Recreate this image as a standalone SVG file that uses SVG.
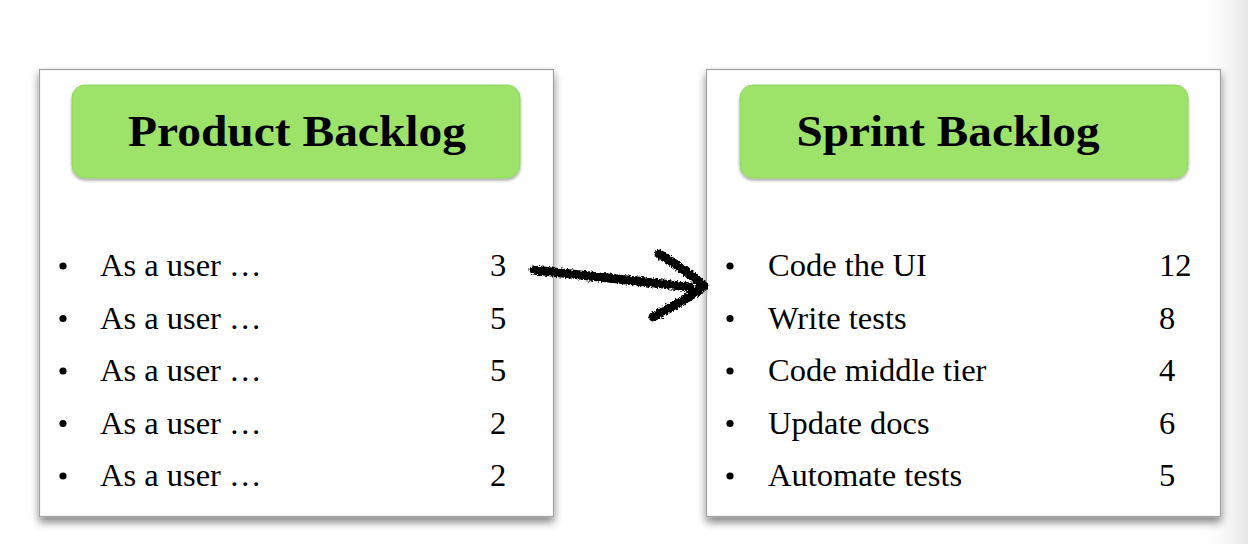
<svg xmlns="http://www.w3.org/2000/svg" width="1248" height="544" viewBox="0 0 1248 544">
  <defs>
    <style>
      .card { fill: #ffffff; stroke: #a0a0a0; stroke-width: 1.2; }
      .hdr { fill: #9de36b; stroke: #93d562; stroke-width: 1; }
      .title { font-family: "Liberation Serif", serif; font-weight: bold; font-size: 45px; fill: #000; text-anchor: middle; }
      .item { font-family: "Liberation Serif", serif; font-size: 32.5px; fill: #000; }
      .bullet { fill: #000; }
      .arrow { fill: none; stroke: #000; stroke-width: 9; stroke-linecap: round; stroke-linejoin: round; }
    </style>
    <linearGradient id="edge" x1="0" y1="0" x2="1" y2="0">
      <stop offset="0" stop-color="#ffffff" stop-opacity="0"/>
      <stop offset="1" stop-color="#e6e6e6"/>
    </linearGradient>
    <filter id="cardShadow" x="-10%" y="-10%" width="120%" height="125%">
      <feGaussianBlur in="SourceAlpha" stdDeviation="4"/>
      <feOffset dx="0" dy="5" result="b"/>
      <feComponentTransfer><feFuncA type="linear" slope="0.5"/></feComponentTransfer>
      <feMerge><feMergeNode/><feMergeNode in="SourceGraphic"/></feMerge>
    </filter>
    <filter id="hdrShadow" x="-5%" y="-10%" width="110%" height="130%">
      <feGaussianBlur in="SourceAlpha" stdDeviation="1.5"/>
      <feOffset dx="0" dy="2"/>
      <feComponentTransfer><feFuncA type="linear" slope="0.35"/></feComponentTransfer>
      <feMerge><feMergeNode/><feMergeNode in="SourceGraphic"/></feMerge>
    </filter>
    <filter id="rough" x="-10%" y="-30%" width="120%" height="160%">
      <feTurbulence type="fractalNoise" baseFrequency="0.6" numOctaves="2" seed="3" result="n"/>
      <feDisplacementMap in="SourceGraphic" in2="n" scale="5" xChannelSelector="R" yChannelSelector="G"/>
    </filter>
  </defs>

  <rect x="0" y="0" width="1248" height="544" fill="#ffffff"/>
  <rect x="1196" y="0" width="52" height="544" fill="url(#edge)"/>

  <g id="product-backlog">
    <rect class="card" x="39.5" y="69.5" width="514" height="447" filter="url(#cardShadow)"/>
    <rect class="hdr" x="72" y="85" width="448" height="93" rx="13" filter="url(#hdrShadow)"/>
    <text class="title" x="297" y="146" textLength="338" lengthAdjust="spacingAndGlyphs">Product Backlog</text>
    <g class="item">
      <circle class="bullet" cx="63" cy="266" r="3.6"/>
      <text x="100" y="276">As a user …</text><text x="490" y="276">3</text>
      <circle class="bullet" cx="63" cy="318.5" r="3.6"/>
      <text x="100" y="328.5">As a user …</text><text x="490" y="328.5">5</text>
      <circle class="bullet" cx="63" cy="371" r="3.6"/>
      <text x="100" y="381">As a user …</text><text x="490" y="381">5</text>
      <circle class="bullet" cx="63" cy="423.5" r="3.6"/>
      <text x="100" y="433.5">As a user …</text><text x="490" y="433.5">2</text>
      <circle class="bullet" cx="63" cy="476" r="3.6"/>
      <text x="100" y="486">As a user …</text><text x="490" y="486">2</text>
    </g>
  </g>

  <g id="sprint-backlog">
    <rect class="card" x="706.5" y="69.5" width="514" height="447" filter="url(#cardShadow)"/>
    <rect class="hdr" x="740" y="85" width="448" height="93" rx="13" filter="url(#hdrShadow)"/>
    <text class="title" x="948" y="146" textLength="303" lengthAdjust="spacingAndGlyphs">Sprint Backlog</text>
    <g class="item">
      <circle class="bullet" cx="730" cy="266" r="3.6"/>
      <text x="768" y="276">Code the UI</text><text x="1159" y="276">12</text>
      <circle class="bullet" cx="730" cy="318.5" r="3.6"/>
      <text x="768" y="328.5">Write tests</text><text x="1159" y="328.5">8</text>
      <circle class="bullet" cx="730" cy="371" r="3.6"/>
      <text x="768" y="381">Code middle tier</text><text x="1159" y="381">4</text>
      <circle class="bullet" cx="730" cy="423.5" r="3.6"/>
      <text x="768" y="433.5">Update docs</text><text x="1159" y="433.5">6</text>
      <circle class="bullet" cx="730" cy="476" r="3.6"/>
      <text x="768" y="486">Automate tests</text><text x="1159" y="486">5</text>
    </g>
  </g>

  <g id="connectors" filter="url(#rough)">
    <path class="arrow" d="M534,270 C590,276 640,281 690,287"/>
    <path class="arrow" d="M659,254 C680,266 694,277 704,286 C690,298 670,308 653,317"/>
  </g>
</svg>
